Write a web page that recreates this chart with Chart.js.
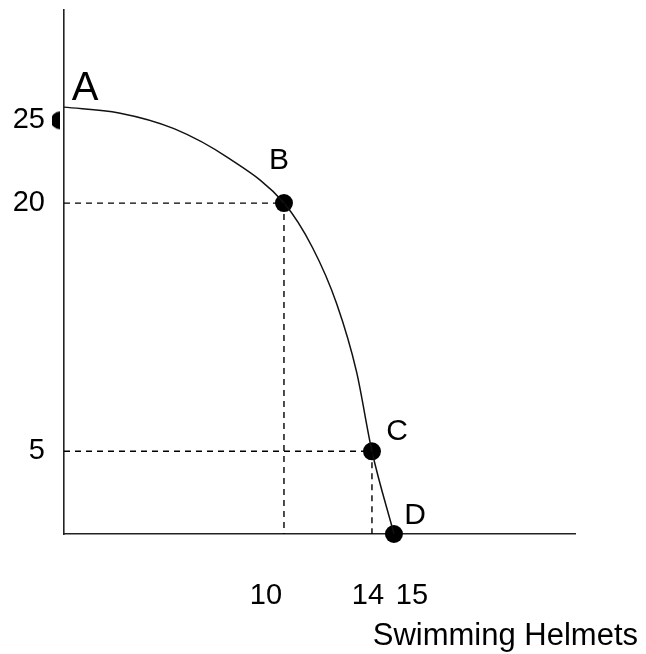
<!DOCTYPE html>
<html>
<head>
<meta charset="utf-8">
<script src="https://cdn.jsdelivr.net/npm/chart.js@4/dist/chart.umd.min.js"></script>
<style>
  html, body { margin: 0; padding: 0; background: #ffffff; }
  canvas { display: block; }
</style>
</head>
<body>
<canvas id="c" width="646" height="654"></canvas>
<script>
// ---- data ----
const curveX = [0, 2.5, 5, 7.5, 10, 11.3, 12.4, 13.3, 14, 15];
const curveY = [25.8, 25.45, 24.5, 22.7, 20, 17.3, 13.9, 9.8, 5, 0];
const pointNames = ['A', 'B', 'C', 'D'];
const pointX = [0, 10, 14, 15];
const pointY = [25, 20, 5, 0];
const xTickValues = [10, 14, 15];
const xTickLabels = ['10', '14', '15'];
const yTickValues = [5, 20, 25];
const yTickLabels = ['5', '20', '25'];
const xAxisTitle = 'Swimming Helmets';

const FONT = "'Liberation Sans', Arial, sans-serif";

// half-dot marker used for point A
const halfDot = document.createElement('canvas');
halfDot.width = 24; halfDot.height = 20;
(function () {
  const g = halfDot.getContext('2d');
  g.fillStyle = '#000';
  g.beginPath();
  g.arc(8, 10, 9, Math.PI / 2, Math.PI * 3 / 2);
  g.closePath();
  g.fill();
})();

const curveData = curveX.map((x, i) => ({ x: x, y: curveY[i] }));
const guideB = [{ x: 0, y: pointY[1] }, { x: pointX[1], y: pointY[1] }, { x: pointX[1], y: 0 }];
const guideC = [{ x: 0, y: pointY[2] }, { x: pointX[2], y: pointY[2] }, { x: pointX[2], y: 0 }];
const dotData = pointX.map((x, i) => ({ x: x, y: pointY[i] }));

const labelPlugin = {
  id: 'labels',
  afterDatasetsDraw(chart, args, opts) {
    const ctx = chart.ctx;
    const xs = chart.scales.x, ys = chart.scales.y;
    ctx.save();
    ctx.fillStyle = '#000';
    // point letters
    const offs = opts.pointOffsets;
    pointNames.forEach((n, i) => {
      const px = xs.getPixelForValue(pointX[i]);
      const py = ys.getPixelForValue(pointY[i]);
      ctx.font = (i === 0 ? 40 : 30) + 'px ' + FONT;
      ctx.textAlign = 'center';
      ctx.textBaseline = 'middle';
      ctx.fillText(n, px + offs[i][0], py + offs[i][1]);
    });
    // x tick labels
    ctx.font = '29px ' + FONT;
    ctx.textAlign = 'center';
    ctx.textBaseline = 'alphabetic';
    xTickValues.forEach((v, i) => {
      const px = xs.getPixelForValue(v) + opts.xTickNudge[i];
      ctx.fillText(xTickLabels[i], px, xs.bottom - opts.xTickFromBottom);
    });
    // axis title
    ctx.font = '31px ' + FONT;
    ctx.textAlign = 'right';
    ctx.fillText(xAxisTitle, chart.width - 8, chart.height - 9);
    ctx.restore();
  }
};

new Chart(document.getElementById('c'), {
  type: 'scatter',
  data: {
    datasets: [
      {
        data: guideB, showLine: true, borderColor: '#000', borderWidth: 1.4,
        borderDash: [6, 5], pointRadius: 0, tension: 0
      },
      {
        data: guideC, showLine: true, borderColor: '#000', borderWidth: 1.4,
        borderDash: [6, 5], pointRadius: 0, tension: 0
      },
      {
        data: curveData, showLine: true, borderColor: '#111', borderWidth: 1.5,
        pointRadius: 0, cubicInterpolationMode: 'monotone', clip: false
      },
      {
        data: dotData, showLine: false, clip: false,
        pointStyle: pointNames.map((s, i) => i === 0 ? halfDot : 'circle'),
        pointRadius: [10, 9, 9, 9],
        backgroundColor: '#000', borderColor: '#000', borderWidth: 0
      }
    ]
  },
  options: {
    responsive: false,
    animation: false,
    events: [],
    layout: { padding: { top: 6, right: 71, left: 0, bottom: 0 } },
    plugins: {
      legend: { display: false },
      tooltip: { enabled: false },
      labels: {
        pointOffsets: [[21, -31], [-5, -42], [25, -20], [21, -18]],
        xTickNudge: [-18, -4, 18],
        xTickFromBottom: 50
      }
    },
    scales: {
      x: {
        type: 'linear', min: 0, max: 23.23,
        grid: { display: false },
        border: { display: true, color: '#222', width: 1.6 },
        ticks: { display: false },
        afterFit(s) { s.height = 120; s.paddingLeft = 0; s.paddingRight = 0; }
      },
      y: {
        type: 'linear', min: 0, max: 31.67,
        grid: { display: false },
        border: { display: true, color: '#222', width: 1.6 },
        afterBuildTicks(s) { s.ticks = yTickValues.map(v => ({ value: v })); },
        ticks: {
          autoSkip: false,
          padding: 11,
          color: '#000',
          font: { family: FONT, size: 29 },
          callback(v) { const i = yTickValues.indexOf(v); return i >= 0 ? yTickLabels[i] : ''; }
        },
        afterFit(s) { s.width = 64; s.paddingTop = 0; s.paddingBottom = 0; }
      }
    }
  },
  plugins: [labelPlugin]
});
</script>
</body>
</html>
